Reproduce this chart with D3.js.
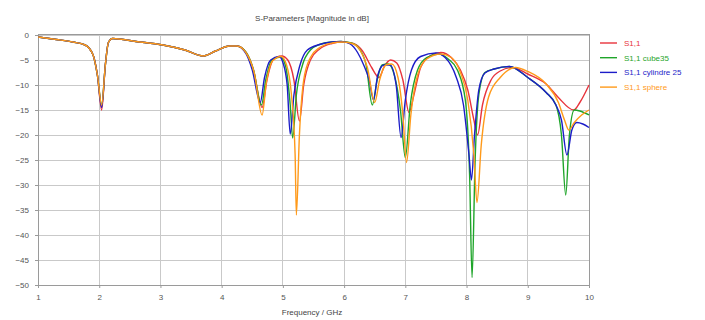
<!DOCTYPE html>
<html><head><meta charset="utf-8">
<script src="https://cdn.jsdelivr.net/npm/d3@7"></script>
<style>
body{margin:0;background:#fff;}
svg{display:block;font-family:"Liberation Sans",Arial,sans-serif;}
</style></head><body>
<svg id="c" width="705" height="320"></svg>
<script>
const title = "S-Parameters [Magnitude in dB]";
const xLabel = "Frequency / GHz";
const xTicks = [1,2,3,4,5,6,7,8,9,10];
const yTicks = [0,-5,-10,-15,-20,-25,-30,-35,-40,-45,-50];
const seriesNames = ["S1,1","S1,1 cube35","S1,1 cylindre 25","S1,1 sphere"];
const seriesColors = ["#e8333c","#1fa52a","#1c1cc8","#ff9a1a"];

const redF = [1.0,1.3,1.57,1.77,1.9,1.97,2.04,2.1,2.15,2.22,2.6,3.04,3.4,3.7,3.9,4.13,4.25,4.4,4.52,4.66,4.74,4.84,4.98,5.08,5.18,5.27,5.34,5.45,5.6,5.8,5.97,6.15,6.3,6.45,6.57,6.66,6.76,6.86,6.96,7.06,7.14,7.25,7.4,7.58,7.75,7.9,8.02,8.12,8.18,8.26,8.4,8.55,8.75,9.0,9.3,9.5,9.75,9.85,10.0];
const redV = [-0.4,-0.9,-1.4,-2.0,-4.0,-8,-15,-6,-1.5,-0.7,-1.3,-2.0,-3.0,-4.2,-3.2,-2.2,-2.2,-3.5,-7,-14.5,-9,-5,-4.2,-5,-9,-17.2,-10,-5,-2.8,-1.7,-1.4,-1.7,-3.2,-6.5,-8.5,-6.2,-5.0,-5.6,-9,-15.5,-12,-6.5,-4.2,-3.5,-4.5,-7,-11,-17,-20,-14,-9,-7.2,-6.5,-7.8,-9.8,-12.5,-15,-13.5,-10];

const greenF = [1.0,1.3,1.57,1.77,1.9,1.97,2.04,2.1,2.15,2.22,2.6,3.04,3.4,3.7,3.9,4.13,4.25,4.4,4.52,4.65,4.72,4.82,4.96,5.04,5.12,5.16,5.22,5.32,5.45,5.6,5.8,5.95,6.12,6.25,6.36,6.46,6.54,6.62,6.72,6.82,6.92,7.0,7.08,7.2,7.35,7.55,7.7,7.85,7.98,8.05,8.09,8.14,8.2,8.3,8.45,8.7,9.0,9.3,9.46,9.55,9.62,9.68,9.76,9.85,10.0];
const greenV = [-0.4,-0.9,-1.4,-2.0,-4.0,-8,-14,-6,-1.5,-0.7,-1.3,-2.0,-3.0,-4.2,-3.2,-2.2,-2.2,-3.5,-7,-14,-9,-5,-4.4,-6,-14,-20.6,-12,-6,-3,-1.9,-1.4,-1.3,-1.6,-2.8,-6,-14,-9,-6,-5.8,-8,-15,-24.5,-14,-7,-4.5,-3.8,-4.8,-7,-13,-28,-48.5,-25,-12,-7.5,-6.8,-6.3,-8.5,-11.5,-14,-20,-32,-20,-15,-15.2,-16];

const blueF = [1.0,1.3,1.57,1.77,1.9,1.97,2.04,2.1,2.15,2.22,2.6,3.04,3.4,3.7,3.9,4.13,4.25,4.4,4.5,4.63,4.7,4.8,4.94,5.0,5.07,5.12,5.18,5.28,5.4,5.6,5.8,5.95,6.1,6.22,6.32,6.41,6.48,6.55,6.65,6.75,6.85,6.93,7.0,7.1,7.25,7.5,7.65,7.83,7.95,8.04,8.08,8.13,8.2,8.3,8.45,8.7,9.0,9.3,9.46,9.55,9.64,9.72,9.8,9.9,10.0];
const blueV = [-0.4,-0.9,-1.4,-2.0,-4.0,-8,-14.5,-6,-1.5,-0.7,-1.3,-2.0,-3.0,-4.2,-3.2,-2.2,-2.2,-3.8,-7,-13.5,-8.5,-5,-4.3,-5.5,-10,-19.8,-12,-6,-3,-1.9,-1.4,-1.3,-1.8,-3.5,-6,-9,-13,-8,-6,-6,-10,-20.5,-13,-7,-4.3,-3.6,-4.5,-8.4,-14,-24,-29,-20,-11,-7.6,-6.8,-6.3,-8.5,-11.5,-14,-17,-24,-19,-17.5,-17.8,-18.5];

const orangeF = [1.0,1.3,1.57,1.77,1.9,1.97,2.04,2.1,2.15,2.22,2.6,3.04,3.4,3.7,3.9,4.13,4.25,4.4,4.53,4.66,4.73,4.83,4.97,5.06,5.14,5.2,5.22,5.27,5.34,5.45,5.6,5.8,5.97,6.13,6.27,6.38,6.5,6.58,6.68,6.78,6.88,6.96,7.02,7.09,7.2,7.35,7.58,7.75,7.9,8.02,8.12,8.17,8.24,8.36,8.55,8.8,9.0,9.3,9.5,9.6,9.67,9.76,9.88,10.0];
const orangeV = [-0.4,-0.9,-1.4,-2.0,-4.0,-8,-14,-6,-1.5,-0.7,-1.3,-2.0,-3.0,-4.2,-3.2,-2.2,-2.2,-3.6,-7.5,-16,-9.5,-5.2,-4.3,-6,-12,-24,-36,-20,-9,-4.5,-2.5,-1.6,-1.4,-1.7,-3.2,-6.5,-13.5,-9,-6,-5.8,-8.5,-16,-25.5,-16,-8,-4.8,-3.8,-4.5,-7.5,-13,-24,-33.5,-22,-12.4,-8.5,-6.5,-7.3,-9.8,-13.5,-17,-19,-17.5,-16,-15];

const data = [
  {name: seriesNames[0], color: seriesColors[0], f: redF, v: redV},
  {name: seriesNames[1], color: seriesColors[1], f: greenF, v: greenV},
  {name: seriesNames[2], color: seriesColors[2], f: blueF, v: blueV},
  {name: seriesNames[3], color: seriesColors[3], f: orangeF, v: orangeV}
];

const svg = d3.select("#c");
const L = 38, R = 589, T = 34, B = 285;
const x = d3.scaleLinear().domain([1,10]).range([L,R]);
const y = d3.scaleLinear().domain([-50,0]).range([B,T+1]);

// grid
const g = svg.append("g");
g.selectAll(".vg").data(xTicks).join("line")
  .attr("x1",d=>x(d)).attr("x2",d=>x(d)).attr("y1",T).attr("y2",B)
  .attr("stroke","#c9c9c9").attr("stroke-width",1).attr("shape-rendering","crispEdges");
g.selectAll(".hg").data(yTicks).join("line")
  .attr("x1",L).attr("x2",R).attr("y1",d=>y(d)).attr("y2",d=>y(d))
  .attr("stroke","#c9c9c9").attr("stroke-width",1).attr("shape-rendering","crispEdges");

// frame
svg.append("rect").attr("x",L).attr("y",T).attr("width",R-L).attr("height",B-T)
  .attr("fill","none").attr("stroke","#9a9a9a").attr("shape-rendering","crispEdges");

// axes
const xa = svg.append("g").attr("transform",`translate(0,${B})`)
  .call(d3.axisBottom(x).tickValues(xTicks).tickSize(3).tickPadding(6));
const ya = svg.append("g").attr("transform",`translate(${L},0)`)
  .call(d3.axisLeft(y).tickValues(yTicks).tickSize(3).tickPadding(6));
[xa,ya].forEach(a=>{
  a.select(".domain").attr("stroke","#9a9a9a");
  a.selectAll(".tick line").attr("stroke","#9a9a9a");
  a.selectAll("text").attr("font-size",8).attr("fill","#555").attr("font-family","Liberation Sans, Arial, sans-serif");
});

// lines
const line = d3.line().x(d=>x(d[0])).y(d=>y(d[1])).curve(d3.curveMonotoneX);
const clip = svg.append("clipPath").attr("id","pc").append("rect")
  .attr("x",L).attr("y",T-2).attr("width",R-L+1).attr("height",B-T+2);
const lg = svg.append("g").attr("clip-path","url(#pc)");
lg.selectAll("path").data(data).join("path")
  .attr("d",s=>line(s.f.map((f,i)=>[f,s.v[i]])))
  .attr("fill","none").attr("stroke",s=>s.color).attr("stroke-width",1.4)
  .attr("stroke-linejoin","round");

// titles
svg.append("text").attr("x",312).attr("y",21).attr("text-anchor","middle")
  .attr("font-size",8).attr("fill","#444").text(title);
svg.append("text").attr("x",312).attr("y",315).attr("text-anchor","middle")
  .attr("font-size",8).attr("fill","#444").text(xLabel);

// legend
const leg = svg.append("g");
data.forEach((s,i)=>{
  const yy = 43 + i*14.7;
  leg.append("line").attr("x1",600).attr("x2",617).attr("y1",yy).attr("y2",yy)
    .attr("stroke",s.color).attr("stroke-width",1.4);
  leg.append("text").attr("x",624).attr("y",yy+3).attr("font-size",8)
    .attr("fill",s.color).text(s.name);
});
</script>
</body></html>
